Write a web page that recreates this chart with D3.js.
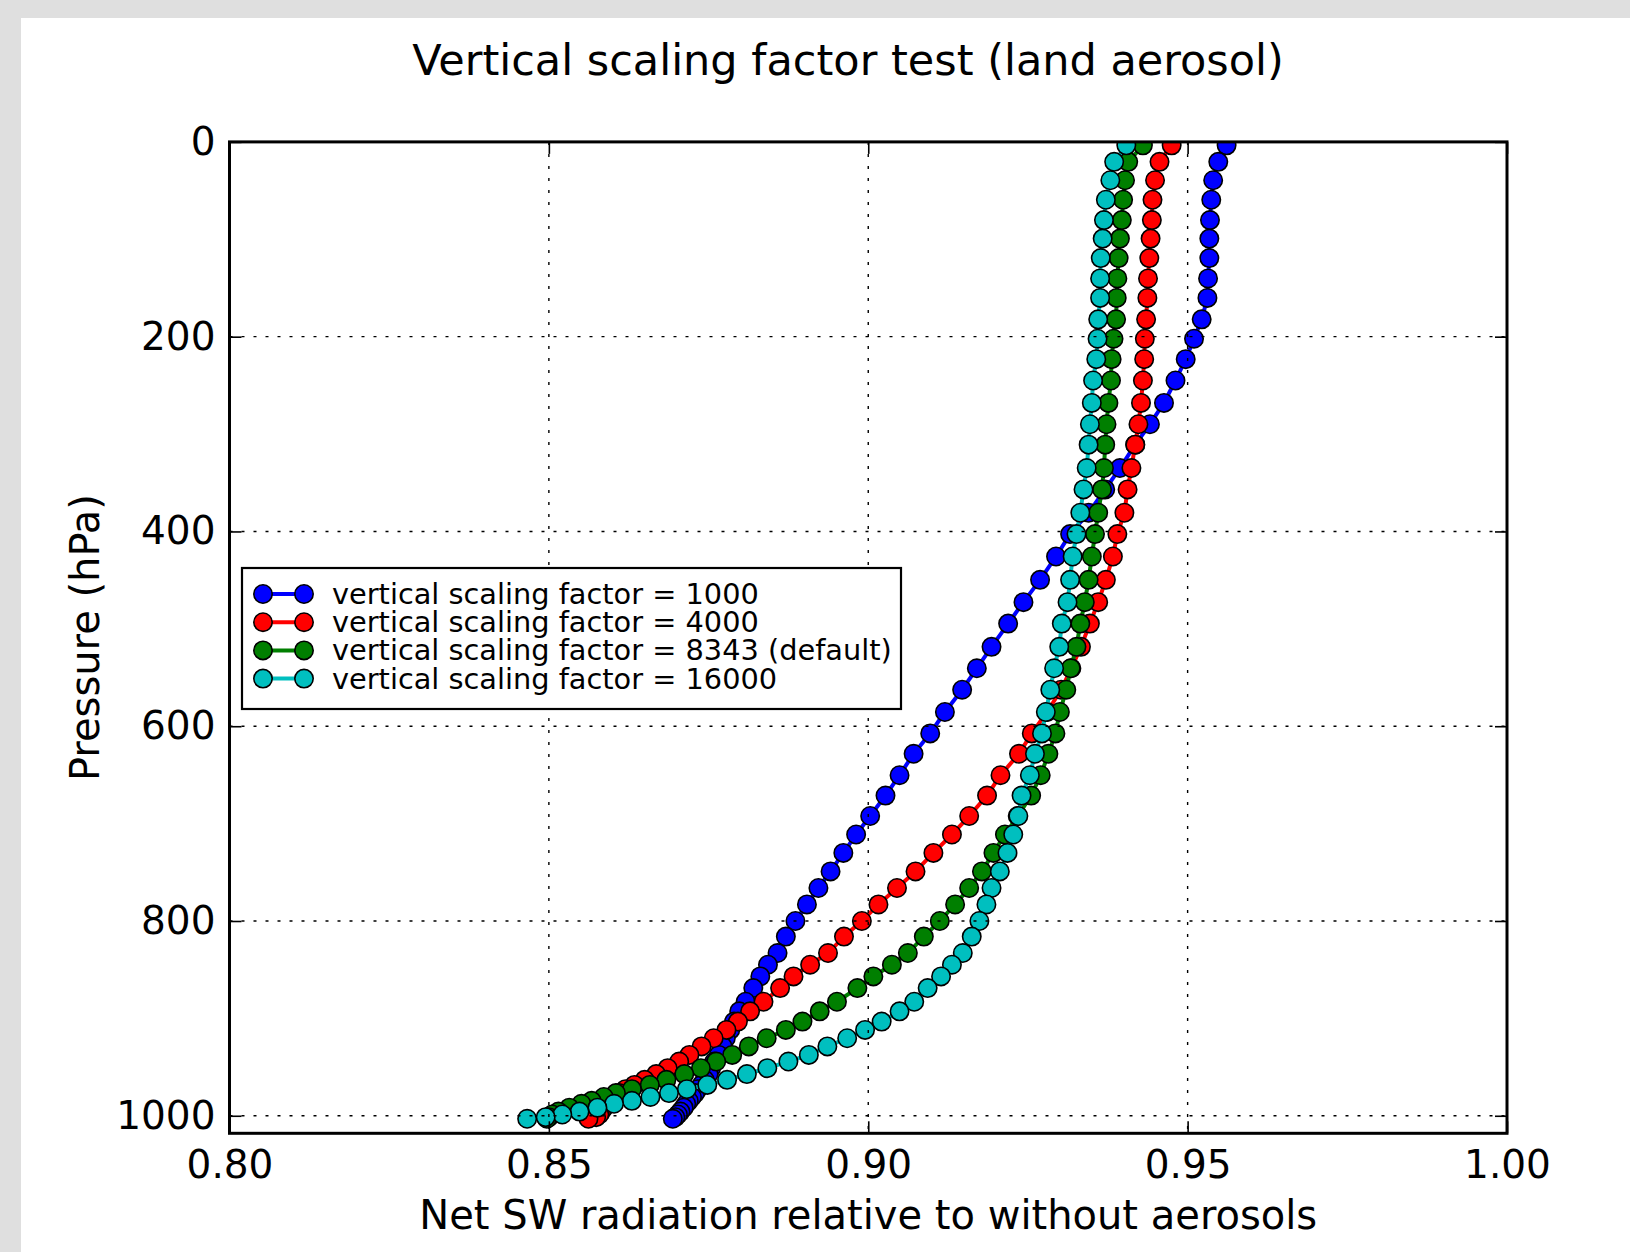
<html>
<head>
  <script src="https://d3js.org/d3.v7.min.js"></script>
  <style>
    body { margin: 0; background: #dfdfdf; }
    text { font-family: "DejaVu Sans", sans-serif; fill: #000; }
  </style>
</head>
<body>
  <div id="chart"></div>
  <script>

    // pressure levels (hPa), shared by all four runs
    var pressure = [3.5, 20.5, 39.4, 59.4, 80.3, 99.3, 119.3, 140.2, 160.2, 182.2,
      202.1, 223.1, 245.0, 268.0, 289.9, 310.9, 334.9, 356.8, 380.8, 402.7,
      425.7, 449.7, 472.6, 494.6, 518.5, 540.5, 562.5, 585.4, 607.4, 628.3,
      650.3, 671.2, 692.2, 711.2, 730.1, 749.1, 766.1, 783.0, 800.0, 816.0,
      832.9, 844.9, 856.9, 868.9, 882.9, 892.8, 903.3, 911.8, 920.4, 928.8,
      937.5, 944.3, 951.1, 957.2, 963.1, 968.3, 972.7, 976.7, 980.7, 984.7,
      987.7, 991.7, 995.7, 998.7, 1001.4, 1003.1];

    var seriesNames = [
      "vertical scaling factor = 1000",
      "vertical scaling factor = 4000",
      "vertical scaling factor = 8343 (default)",
      "vertical scaling factor = 16000"
    ];
    var seriesColors = ["#0000ff", "#ff0000", "#007f00", "#00bfbf"];

    var sf1000 = [0.9561, 0.9548, 0.9540, 0.9537, 0.9535, 0.9534, 0.9534, 0.9532, 0.9531, 0.9522,
      0.9510, 0.9497, 0.9481, 0.9463, 0.9441, 0.9418, 0.9394, 0.9371, 0.9345, 0.9316,
      0.9294, 0.9269, 0.9243, 0.9219, 0.9193, 0.9170, 0.9147, 0.9120, 0.9097, 0.9071,
      0.9049, 0.9027, 0.9003, 0.8981, 0.8961, 0.8941, 0.8922, 0.8904, 0.8886, 0.8871,
      0.8858, 0.8843, 0.8831, 0.8820, 0.8808, 0.8798, 0.8790, 0.8784, 0.8777, 0.8772,
      0.8766, 0.8759, 0.8754, 0.8750, 0.8744, 0.8739, 0.8733, 0.8729, 0.8724, 0.8719,
      0.8715, 0.8711, 0.8706, 0.8702, 0.8698, 0.8694];

    var sf4000 = [0.9475, 0.9456, 0.9449, 0.9445, 0.9444, 0.9442, 0.9440, 0.9438, 0.9437, 0.9435,
      0.9433, 0.9432, 0.9430, 0.9427, 0.9423, 0.9418, 0.9412, 0.9406, 0.9401, 0.9390,
      0.9383, 0.9372, 0.9360, 0.9347, 0.9333, 0.9318, 0.9302, 0.9280, 0.9256, 0.9236,
      0.9207, 0.9186, 0.9158, 0.9131, 0.9102, 0.9074, 0.9045, 0.9016, 0.8990, 0.8962,
      0.8937, 0.8909, 0.8883, 0.8862, 0.8836, 0.8815, 0.8796, 0.8778, 0.8758, 0.8739,
      0.8720, 0.8704, 0.8686, 0.8668, 0.8650, 0.8634, 0.8620, 0.8610, 0.8602, 0.8596,
      0.8591, 0.8586, 0.8582, 0.8579, 0.8574, 0.8562];

    var sf8343 = [0.9430, 0.9407, 0.9402, 0.9399, 0.9397, 0.9394, 0.9392, 0.9390, 0.9389, 0.9388,
      0.9384, 0.9381, 0.9380, 0.9376, 0.9373, 0.9371, 0.9369, 0.9366, 0.9360, 0.9355,
      0.9350, 0.9345, 0.9339, 0.9332, 0.9326, 0.9317, 0.9310, 0.9300, 0.9293, 0.9282,
      0.9270, 0.9255, 0.9234, 0.9214, 0.9196, 0.9178, 0.9158, 0.9136, 0.9112, 0.9087,
      0.9062, 0.9037, 0.9008, 0.8983, 0.8951, 0.8924, 0.8897, 0.8871, 0.8841, 0.8813,
      0.8787, 0.8762, 0.8738, 0.8712, 0.8684, 0.8658, 0.8630, 0.8605, 0.8586, 0.8567,
      0.8551, 0.8532, 0.8515, 0.8505, 0.8500, 0.8497];

    var sf16000 = [0.9404, 0.9385, 0.9379, 0.9372, 0.9369, 0.9367, 0.9364, 0.9363, 0.9363, 0.9360,
      0.9359, 0.9357, 0.9352, 0.9350, 0.9347, 0.9345, 0.9342, 0.9337, 0.9332, 0.9326,
      0.9320, 0.9316, 0.9312, 0.9303, 0.9299, 0.9291, 0.9285, 0.9278, 0.9272, 0.9261,
      0.9253, 0.9240, 0.9235, 0.9227, 0.9218, 0.9206, 0.9193, 0.9185, 0.9174, 0.9162,
      0.9148, 0.9131, 0.9114, 0.9093, 0.9072, 0.9049, 0.9021, 0.8995, 0.8967, 0.8936,
      0.8907, 0.8875, 0.8842, 0.8810, 0.8779, 0.8748, 0.8716, 0.8688, 0.8659, 0.8630,
      0.8602, 0.8576, 0.8548, 0.8521, 0.8495, 0.8466];

    var seriesValues = [sf1000, sf4000, sf8343, sf16000];

    var xTicks = [0.80, 0.85, 0.90, 0.95, 1.00];
    var yTicks = [0, 200, 400, 600, 800, 1000];

    var W = 1630, H = 1252;
    var plot = {left: 229.5, right: 1507, top: 141.9, bottom: 1133.3};
    var markerR = 9.2;
    var lineW = 4;

    var xScale = d3.scaleLinear().domain([0.8, 1.0]).range([plot.left, plot.right]);
    var yScale = d3.scaleLinear().domain([0, 1018]).range([plot.top, plot.bottom]);

    var svg = d3.select("#chart").append("svg")
      .attr("width", W)
      .attr("height", H);

    // grey page with white figure panel
    svg.append("rect").attr("width", W).attr("height", H).attr("fill", "#dfdfdf");
    svg.append("rect").attr("x", 21).attr("y", 18).attr("width", W - 21).attr("height", H - 18).attr("fill", "#fff");

    svg.append("clipPath").attr("id", "plotclip")
      .append("rect")
        .attr("x", plot.left).attr("y", plot.top)
        .attr("width", plot.right - plot.left).attr("height", plot.bottom - plot.top);

    // series: line then markers, drawn in order so cyan ends up on top
    var line = d3.line()
      .x(d => xScale(d[0]))
      .y(d => yScale(d[1]));

    var plotArea = svg.append("g").attr("clip-path", "url(#plotclip)");

    seriesValues.forEach(function(vals, i) {
      var pts = vals.map((v, j) => [v, pressure[j]]);
      var g = plotArea.append("g");
      g.append("path")
        .datum(pts)
        .attr("d", line)
        .attr("fill", "none")
        .attr("stroke", seriesColors[i])
        .attr("stroke-width", lineW)
        .attr("stroke-linejoin", "round");
      g.selectAll("circle")
        .data(pts)
        .join("circle")
          .attr("cx", d => xScale(d[0]))
          .attr("cy", d => yScale(d[1]))
          .attr("r", markerR)
          .attr("fill", seriesColors[i])
          .attr("stroke", "#000")
          .attr("stroke-width", 1.6);
    });

    // dotted grid, drawn above the data (classic style)
    var grid = svg.append("g");
    grid.selectAll(".vg")
      .data(xTicks.slice(1, -1))
      .join("line")
        .attr("x1", d => xScale(d)).attr("x2", d => xScale(d))
        .attr("y1", plot.top).attr("y2", plot.bottom)
        .attr("stroke", "#000").attr("stroke-width", 1.4)
        .attr("stroke-dasharray", "3,9");
    grid.selectAll(".hg")
      .data(yTicks.slice(1))
      .join("line")
        .attr("x1", plot.left).attr("x2", plot.right)
        .attr("y1", d => yScale(d)).attr("y2", d => yScale(d))
        .attr("stroke", "#000").attr("stroke-width", 1.4)
        .attr("stroke-dasharray", "3,9");

    // axes with inward ticks on all four sides
    function styleAxis(g) {
      g.select(".domain").remove();
      g.selectAll(".tick line").attr("stroke", "#000").attr("stroke-width", 1.6);
      g.selectAll("text").style("font-family", "DejaVu Sans").style("font-size", "39px").attr("fill", "#000");
    }

    svg.append("g")
      .attr("transform", `translate(0,${plot.bottom})`)
      .call(d3.axisBottom(xScale).tickValues(xTicks).tickFormat(d3.format(".2f"))
        .tickSizeInner(-12).tickSizeOuter(0).tickPadding(17))
      .call(styleAxis);

    svg.append("g")
      .attr("transform", `translate(0,${plot.top})`)
      .call(d3.axisTop(xScale).tickValues(xTicks).tickFormat("")
        .tickSizeInner(-12).tickSizeOuter(0))
      .call(styleAxis);

    svg.append("g")
      .attr("transform", `translate(${plot.left},0)`)
      .call(d3.axisLeft(yScale).tickValues(yTicks).tickFormat(d3.format("d"))
        .tickSizeInner(-12).tickSizeOuter(0).tickPadding(14))
      .call(styleAxis);

    svg.append("g")
      .attr("transform", `translate(${plot.right},0)`)
      .call(d3.axisRight(yScale).tickValues(yTicks).tickFormat("")
        .tickSizeInner(-12).tickSizeOuter(0))
      .call(styleAxis);

    // frame
    svg.append("rect")
      .attr("x", plot.left).attr("y", plot.top)
      .attr("width", plot.right - plot.left).attr("height", plot.bottom - plot.top)
      .attr("fill", "none").attr("stroke", "#000").attr("stroke-width", 3);

    // title and axis labels
    svg.append("text")
      .attr("x", 848).attr("y", 75)
      .attr("text-anchor", "middle")
      .style("font-size", "43px")
      .text("Vertical scaling factor test (land aerosol)");

    svg.append("text")
      .attr("x", (plot.left + plot.right) / 2).attr("y", 1229)
      .attr("text-anchor", "middle")
      .style("font-size", "40px")
      .text("Net SW radiation relative to without aerosols");

    svg.append("text")
      .attr("transform", `translate(99,${(plot.top + plot.bottom) / 2}) rotate(-90)`)
      .attr("text-anchor", "middle")
      .style("font-size", "40px")
      .text("Pressure (hPa)");

    // legend
    var legend = svg.append("g");
    legend.append("rect")
      .attr("x", 242).attr("y", 568)
      .attr("width", 659).attr("height", 141)
      .attr("fill", "#fff").attr("stroke", "#000").attr("stroke-width", 2.2);

    var rows = legend.selectAll(".row")
      .data(seriesNames)
      .join("g")
        .attr("transform", (d, i) => `translate(0,${594 + i * 28.2})`);
    rows.append("line")
      .attr("x1", 263).attr("x2", 304)
      .attr("stroke", (d, i) => seriesColors[i]).attr("stroke-width", lineW);
    rows.selectAll("circle")
      .data((d, i) => [[263, i], [304, i]])
      .join("circle")
        .attr("cx", d => d[0]).attr("cy", 0).attr("r", markerR)
        .attr("fill", d => seriesColors[d[1]])
        .attr("stroke", "#000").attr("stroke-width", 1.6);
    rows.append("text")
      .attr("x", 332).attr("y", 0)
      .attr("dy", "0.35em")
      .style("font-size", "28.8px")
      .text(d => d);

  </script>
</body>
</html>
